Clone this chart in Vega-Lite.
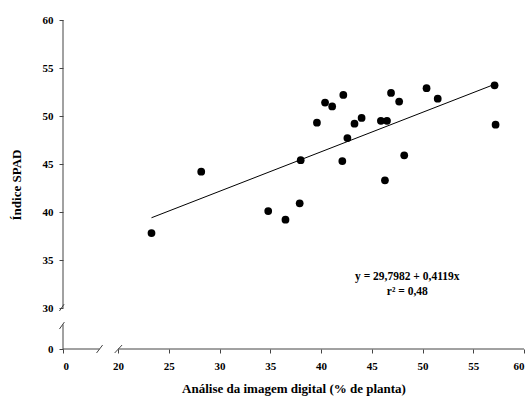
{
  "$schema": "https://vega.github.io/schema/vega-lite/v6.json",
  "width": 461,
  "height": 329,
  "autosize": {"type": "none"},
  "padding": {"left": 63, "top": 20, "right": 7, "bottom": 51},
  "background": "white",
  "config": {
    "view": {"stroke": null},
    "font": "Liberation Serif",
    "axis": {"grid": false, "domain": false, "tickColor": "#444", "tickSize": 4, "labelFont": "Liberation Serif", "labelFontWeight": "bold", "labelFontSize": 11, "labelColor": "black", "titleFont": "Liberation Serif", "titleFontWeight": "bold", "titleFontSize": 13, "titleColor": "black"}
  },
  "datasets": {
    "pts": [
      {"x": 23.3, "y": 37.8},
      {"x": 28.2, "y": 44.2},
      {"x": 34.8, "y": 40.1},
      {"x": 36.5, "y": 39.2},
      {"x": 37.9, "y": 40.9},
      {"x": 38.0, "y": 45.4},
      {"x": 39.6, "y": 49.3},
      {"x": 40.4, "y": 51.4},
      {"x": 41.1, "y": 51.0},
      {"x": 42.2, "y": 52.2},
      {"x": 42.6, "y": 47.7},
      {"x": 42.1, "y": 45.3},
      {"x": 43.3, "y": 49.2},
      {"x": 44.0, "y": 49.8},
      {"x": 45.9, "y": 49.5},
      {"x": 46.5, "y": 49.5},
      {"x": 46.3, "y": 43.3},
      {"x": 46.9, "y": 52.4},
      {"x": 47.7, "y": 51.5},
      {"x": 48.2, "y": 45.9},
      {"x": 50.4, "y": 52.9},
      {"x": 51.5, "y": 51.8},
      {"x": 57.1, "y": 53.2},
      {"x": 57.2, "y": 49.1}
    ],
    "fit": [
      {"x": 23.3, "y": 39.4, "x2": 57.1, "y2": 53.3}
    ],
    "axislines": [
      {"x": 0, "y": 0, "x2": 13.3, "y2": 0},
      {"x": 20, "y": 0, "x2": 60, "y2": 0},
      {"x": 0, "y": 0, "x2": 0, "y2": 18},
      {"x": 0, "y": 30, "x2": 0, "y2": 60},
      {"x": 12.2, "y": -2.9, "x2": 14.4, "y2": 2.9},
      {"x": 18.8, "y": -2.9, "x2": 20.4, "y2": 2.9},
      {"x": -1.3, "y": 27.8, "x2": 0.4, "y2": 30.4},
      {"x": -1.3, "y": 14.6, "x2": 0.5, "y2": 19.7}
    ],
    "notes": [
      {"x": 48.5, "y": 33.2, "t": "y =  29,7982 + 0,4119x"},
      {"x": 48.5, "y": 31.7, "t": "r² = 0,48"}
    ]
  },
  "layer": [
    {
      "data": {"name": "axislines"},
      "mark": {"type": "rule", "color": "#444", "strokeWidth": 1},
      "encoding": {
        "x": {"field": "x", "type": "quantitative", "scale": {"domain": [0, 20, 60], "range": [0, 55, 461]}, "axis": {"values": [0, 20, 25, 30, 35, 40, 45, 50, 55, 60], "title": "Análise da imagem digital (% de planta)", "titlePadding": 11, "labelPadding": 7}},
        "y": {"field": "y", "type": "quantitative", "scale": {"domain": [0, 30, 60], "range": [329, 288, 0]}, "axis": {"values": [0, 30, 35, 40, 45, 50, 55, 60], "title": "Índice SPAD", "titlePadding": 19, "labelPadding": 6}},
        "x2": {"field": "x2"},
        "y2": {"field": "y2"}
      }
    },
    {
      "data": {"name": "fit"},
      "mark": {"type": "rule", "color": "black", "strokeWidth": 1},
      "encoding": {
        "x": {"field": "x", "type": "quantitative"},
        "y": {"field": "y", "type": "quantitative"},
        "x2": {"field": "x2"},
        "y2": {"field": "y2"}
      }
    },
    {
      "data": {"name": "pts"},
      "mark": {"type": "circle", "color": "black", "opacity": 1, "size": 60},
      "encoding": {
        "x": {"field": "x", "type": "quantitative"},
        "y": {"field": "y", "type": "quantitative"}
      }
    },
    {
      "data": {"name": "notes"},
      "mark": {"type": "text", "font": "Liberation Serif", "fontWeight": "bold", "fontSize": 11.5, "color": "black", "align": "center", "baseline": "middle"},
      "encoding": {
        "x": {"field": "x", "type": "quantitative"},
        "y": {"field": "y", "type": "quantitative"},
        "text": {"field": "t"}
      }
    }
  ]
}
